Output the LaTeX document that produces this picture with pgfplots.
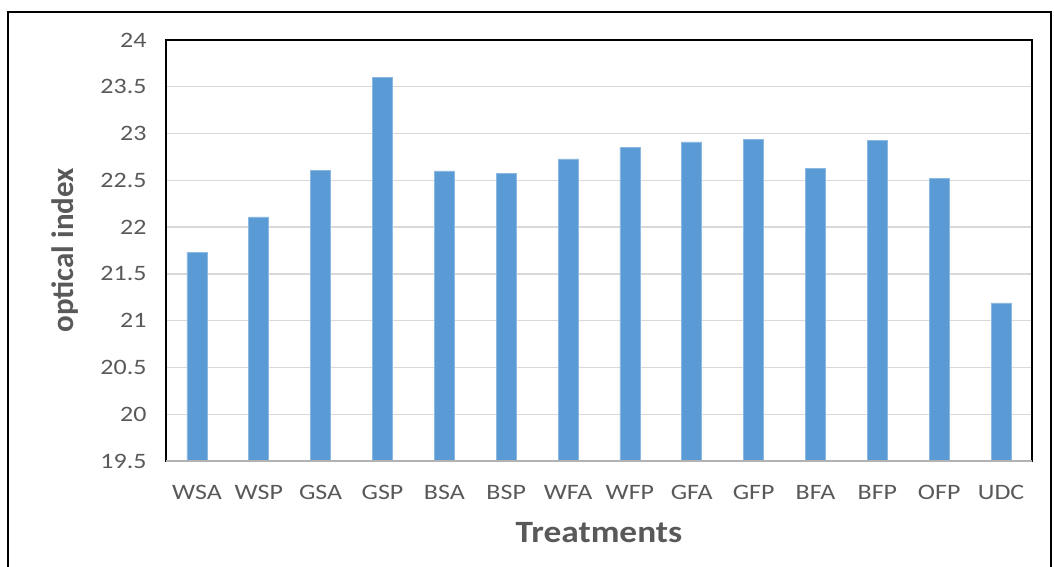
\documentclass[border=0pt]{standalone}
\usepackage{pgfplots}
\pgfplotsset{compat=1.18}
\usepackage{fontspec}
\setmainfont{Carlito}
\definecolor{barblue}{HTML}{5B9BD5}
\definecolor{txt}{HTML}{595959}
\definecolor{gridc}{HTML}{D9D9D9}
\begin{document}
\begin{tikzpicture}
\useasboundingbox (0pt,0pt) rectangle (1054pt,566pt);
\draw[line width=1.5pt] (8pt,-10pt) rectangle (1051pt,554pt);
\begin{axis}[at={(166pt,105pt)}, anchor=south west,
  width=866pt, height=421pt, scale only axis,
  ybar, bar width=20pt,
  xmin=-0.5, xmax=13.5, ymin=19.5, ymax=24,
  ytick={19.5,20,20.5,21,21.5,22,22.5,23,23.5,24},
  xtick=data,
  xticklabels={WSA,WSP,GSA,GSP,BSA,BSP,WFA,WFP,GFA,GFP,BFA,BFP,OFP,UDC},
  major tick length=0pt, tick style={draw=none},
  ymajorgrids, grid style={gridc, line width=1.3pt},
  axis line style={black, line width=1.4pt},
  /pgf/number format/assume math mode=true,
  tick label style={font=\fontsize{22}{22}\selectfont, text=txt, xscale=1.18},
  xticklabel style={anchor=center, yshift=-31pt},
  yticklabel style={anchor=east, xshift=-13pt},
  ylabel={optical index}, xlabel={Treatments},
  label style={font=\bfseries\fontsize{31}{31}\selectfont, text=txt},
  xlabel style={at={(axis description cs:0.5,-0.169)}, anchor=center, xscale=1.14},
  ylabel style={at={(axis description cs:-0.1166,0.5)}, anchor=center, rotate=0},
]
\addplot[fill=barblue, draw=barblue!70!white, line width=0.6pt] coordinates {
(0,21.73) (1,22.11) (2,22.61) (3,23.60) (4,22.60) (5,22.57) (6,22.73)
(7,22.85) (8,22.91) (9,22.94) (10,22.63) (11,22.93) (12,22.52) (13,21.19)};
\draw[gray!60, line width=1.4pt] (rel axis cs:0,0) -- (rel axis cs:1,0);
\end{axis}
\end{tikzpicture}
\end{document}
